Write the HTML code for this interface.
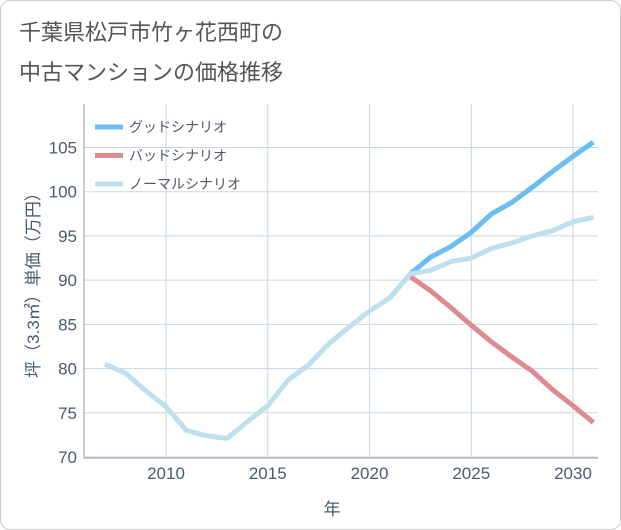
<!DOCTYPE html>
<html><head><meta charset="utf-8"><style>
body{margin:0;background:#fff;}
#card{position:absolute;left:0;top:0;width:619px;height:528px;border:1px solid #ccc;border-radius:10px;background:#fff;overflow:hidden;}
.t{position:absolute;left:18px;font:22px "Liberation Sans","Noto Sans CJK JP",sans-serif;color:#555;}
svg text{font-family:"Liberation Sans","Noto Sans CJK JP",sans-serif;}
</style></head><body>
<div id="card">
<div class="t" style="top:14px">千葉県松戸市竹ヶ花西町の</div>
<div class="t" style="top:54px">中古マンションの価格推移</div>
<svg id="c" width="621" height="530" style="position:absolute;left:0;top:0"></svg>
</div>
<script>
const years=[2007,2008,2009,2010,2011,2012,2013,2014,2015,2016,2017,2018,2019,2020,2021,2022,2023,2024,2025,2026,2027,2028,2029,2030,2031];
const normal=[80.5,79.5,77.5,75.7,73,72.4,72.1,74,75.8,78.7,80.4,82.8,84.7,86.5,88,90.7,91.1,92.1,92.5,93.6,94.2,95,95.6,96.6,97.1];
const goodYears=[2022,2023,2024,2025,2026,2027,2028,2029,2030,2031];
const good=[90.7,92.6,93.8,95.4,97.5,98.8,100.5,102.3,104,105.6];
const bad=[90.4,88.8,86.9,84.9,83,81.3,79.7,77.6,75.8,73.9];
const yTicks=[70,75,80,85,90,95,100,105];
const xTicks=[2010,2015,2020,2025,2030];
const L=83,R=597,T=103,B=457;
const x=v=>165+(v-2010)*20.35;
const y=v=>456-(v-70)*8.843;
const s=document.getElementById('c');const NS='http://www.w3.org/2000/svg';
function el(t,a,p){const e=document.createElementNS(NS,t);for(const k in a)e.setAttribute(k,a[k]);(p||s).appendChild(e);return e;}
yTicks.forEach(v=>{const l=el('line',{x1:L,x2:R,y1:y(v),y2:y(v),stroke:'#c8d6e2','stroke-width':1});


const t=el('text',{x:76,y:y(v)+6,'text-anchor':'end','font-size':17,fill:'#4a5b6e'});t.textContent=v;

});
xTicks.forEach(v=>{const l=el('line',{x1:x(v),x2:x(v),y1:T,y2:B,stroke:'#c8d6e2','stroke-width':1});


const t=el('text',{x:x(v),y:478,'text-anchor':'middle','font-size':17,fill:'#4a5b6e'});t.textContent=v;

});
const ax=el('path',{d:`M${L} ${T}V${B}H${R}`,fill:'none',stroke:'#99a',"stroke-width":1});


function line(xs,vs,c,n){const p=el('polyline',{points:xs.map((yr,i)=>x(yr)+','+y(vs[i])).join(' '),fill:'none',stroke:c,'stroke-width':5,'stroke-linejoin':'round'});

}
line(goodYears,bad,'#de8a92','bad-scenario-line');
line(goodYears,good,'#6cbdf2','good-scenario-line');
line(years,normal,'#bde0ec','normal-scenario-line');
const leg=[['グッドシナリオ','#6cbdf2'],['バッドシナリオ','#de8a92'],['ノーマルシナリオ','#bde0ec']];
leg.forEach((d,i)=>{const yy=126+i*28.5;const l=el('line',{x1:94,x2:122,y1:yy,y2:yy,stroke:d[1],'stroke-width':5});


const t=el('text',{x:128,y:yy+5,'font-size':14,fill:'#556'});t.textContent=d[0];

});
const yt=el('text',{x:38,y:280,'text-anchor':'middle','font-size':17,fill:'#4a5b6e',transform:'rotate(-90 38 280)'});yt.textContent='坪（3.3㎡）単価（万円）';


const xt=el('text',{x:331,y:514,'text-anchor':'middle','font-size':17,fill:'#4a5b6e'});xt.textContent='年';


</script>
</body></html>
